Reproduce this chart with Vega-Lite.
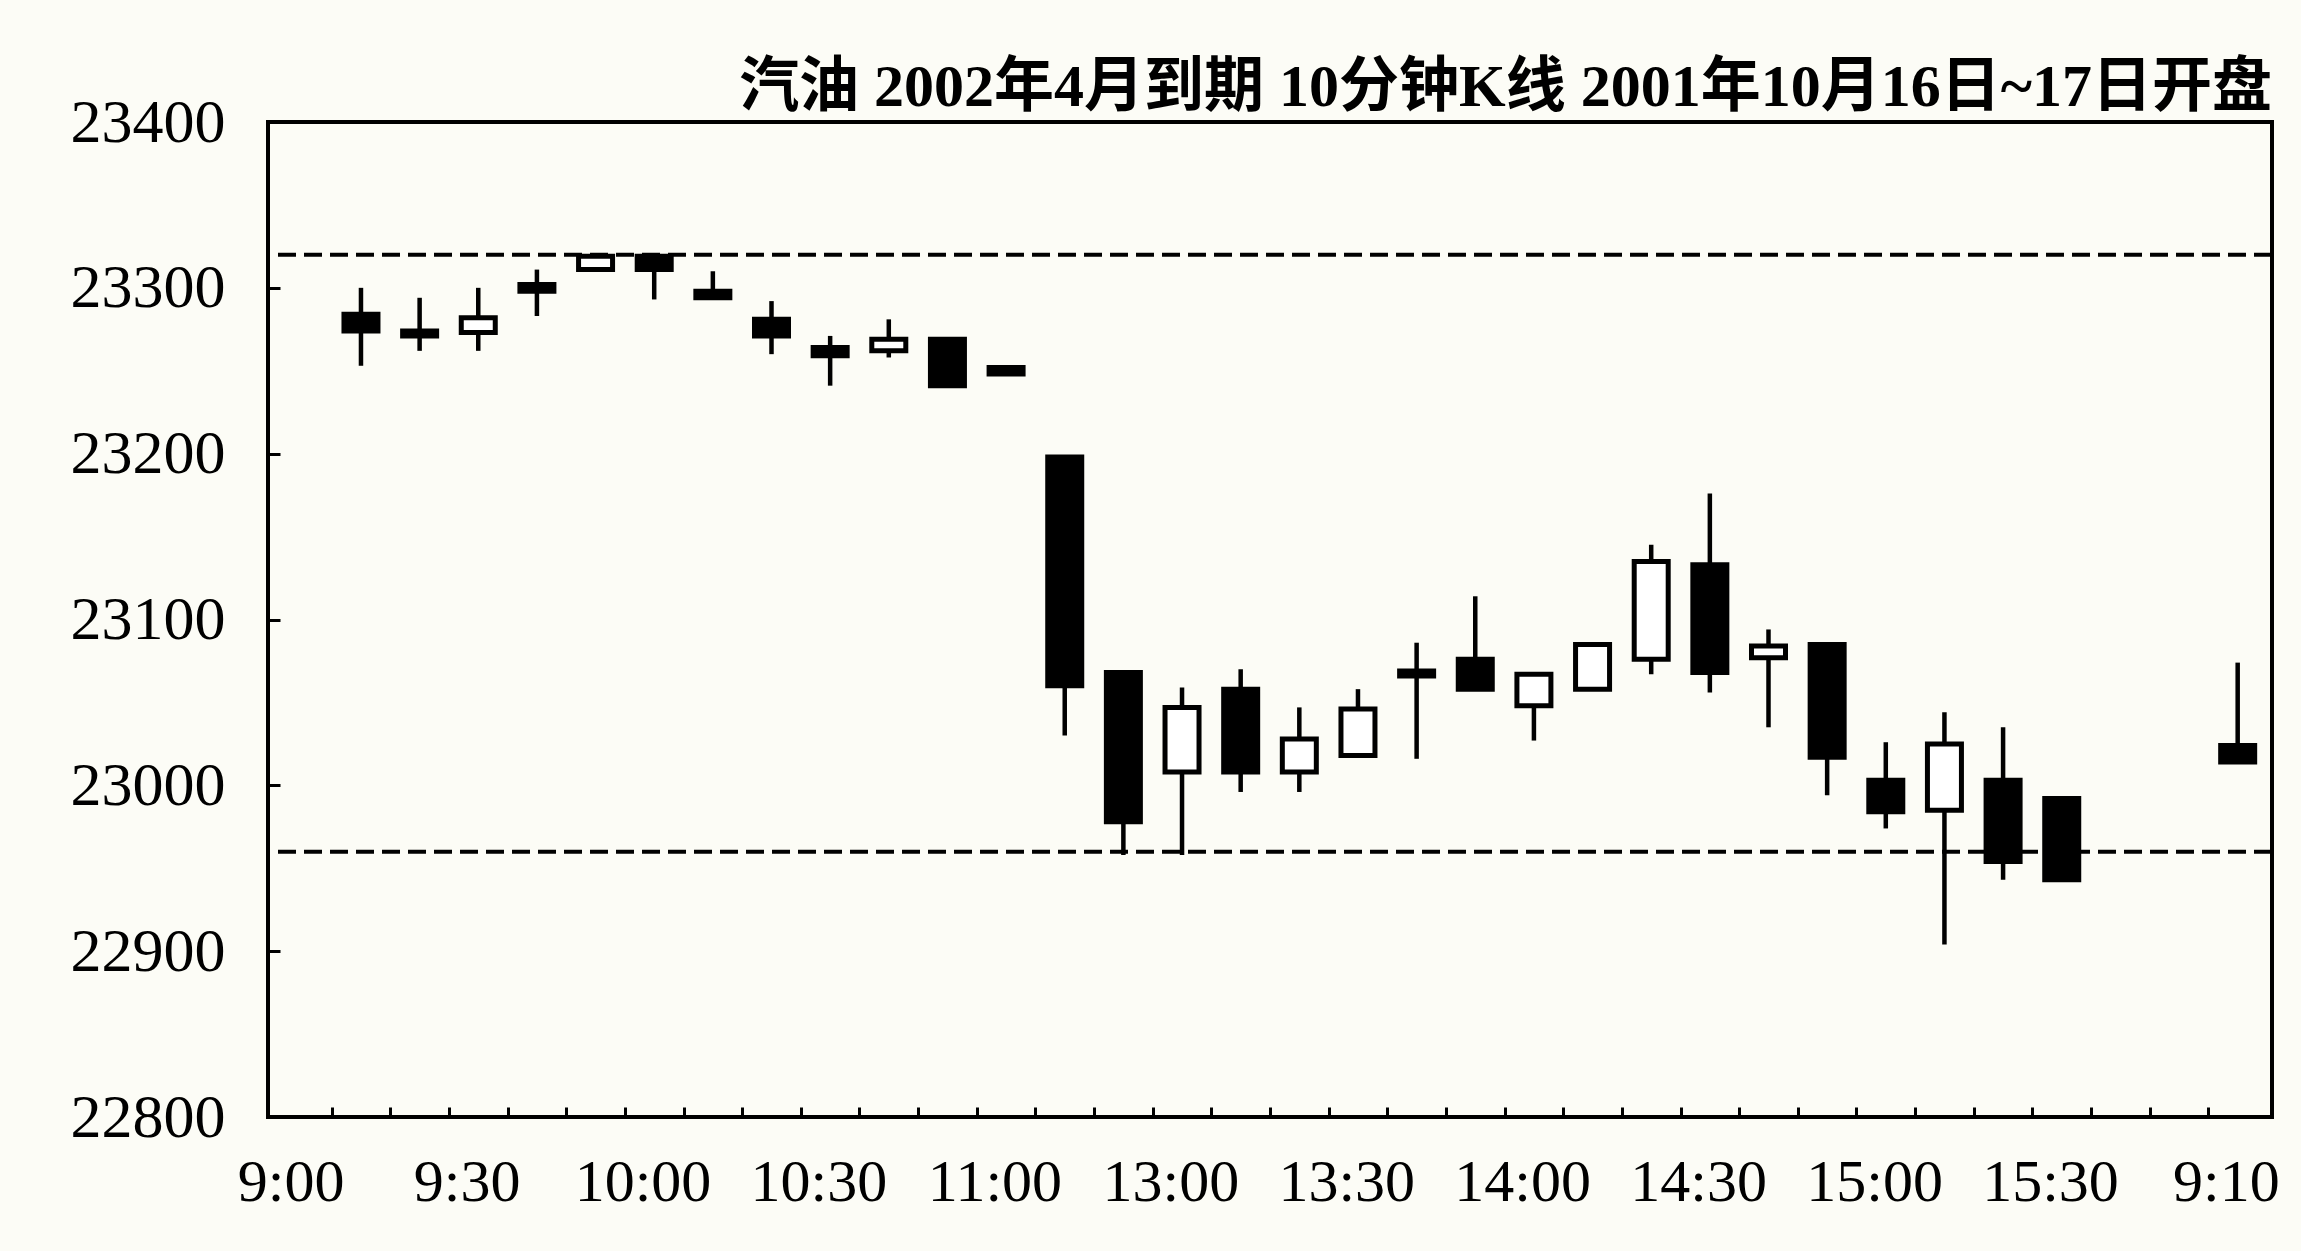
{
  "$schema": "https://vega.github.io/schema/vega-lite/v6.json",
  "autosize": {"type": "none"},
  "width": 2004,
  "height": 995,
  "padding": {"left": 268, "top": 122, "right": 29, "bottom": 134},
  "background": "#fcfcf6",
  "config": {
    "view": {"stroke": "#000000", "strokeWidth": 4, "fill": "#fcfcf6"},
    "axis": {"grid": false, "domain": false}
  },
  "title": {
    "text": "汽油 2002年4月到期 10分钟K线 2001年10月16日~17日开盘",
    "anchor": "end",
    "frame": "group",
    "orient": "top",
    "offset": -28,
    "font": "Liberation Serif, Noto Sans CJK SC",
    "fontSize": 60,
    "fontWeight": "bold",
    "color": "#000000"
  },
  "datasets": {
    "candles": [
      {"i": 0, "open": 23284, "close": 23274, "high": 23300, "low": 23253},
      {"i": 1, "open": 23274, "close": 23271, "high": 23294, "low": 23262},
      {"i": 2, "open": 23273, "close": 23282, "high": 23300, "low": 23262},
      {"i": 3, "open": 23302, "close": 23298, "high": 23311, "low": 23283},
      {"i": 4, "open": 23311, "close": 23319, "high": 23320, "low": 23310},
      {"i": 5, "open": 23319, "close": 23311, "high": 23320, "low": 23293},
      {"i": 6, "open": 23298, "close": 23294, "high": 23310, "low": 23293},
      {"i": 7, "open": 23281, "close": 23271, "high": 23292, "low": 23260},
      {"i": 8, "open": 23264, "close": 23259, "high": 23271, "low": 23241},
      {"i": 9, "open": 23262, "close": 23269, "high": 23281, "low": 23258},
      {"i": 10, "open": 23269, "close": 23241, "high": 23270, "low": 23240},
      {"i": 11, "open": 23252, "close": 23248, "high": 23253, "low": 23247},
      {"i": 12, "open": 23198, "close": 23060, "high": 23199, "low": 23030},
      {"i": 13, "open": 23068, "close": 22978, "high": 23069, "low": 22958},
      {"i": 14, "open": 23008, "close": 23047, "high": 23059, "low": 22958},
      {"i": 15, "open": 23058, "close": 23008, "high": 23070, "low": 22996},
      {"i": 16, "open": 23008, "close": 23028, "high": 23047, "low": 22996},
      {"i": 17, "open": 23018, "close": 23046, "high": 23058, "low": 23017},
      {"i": 18, "open": 23069, "close": 23066, "high": 23086, "low": 23016},
      {"i": 19, "open": 23076, "close": 23058, "high": 23114, "low": 23057},
      {"i": 20, "open": 23048, "close": 23067, "high": 23068, "low": 23027},
      {"i": 21, "open": 23058, "close": 23085, "high": 23086, "low": 23057},
      {"i": 22, "open": 23076, "close": 23135, "high": 23145, "low": 23067},
      {"i": 23, "open": 23133, "close": 23068, "high": 23176, "low": 23056},
      {"i": 24, "open": 23077, "close": 23084, "high": 23094, "low": 23035},
      {"i": 25, "open": 23085, "close": 23017, "high": 23086, "low": 22994},
      {"i": 26, "open": 23003, "close": 22984, "high": 23026, "low": 22974},
      {"i": 27, "open": 22985, "close": 23025, "high": 23044, "low": 22904},
      {"i": 28, "open": 23003, "close": 22954, "high": 23035, "low": 22943},
      {"i": 29, "open": 22992, "close": 22943, "high": 22993, "low": 22942},
      {"i": 32, "open": 23024, "close": 23014, "high": 23074, "low": 23013}
    ],
    "levels": [
      {"level": 23320},
      {"level": 22960}
    ]
  },
  "layer": [
    {
      "data": {"name": "levels"},
      "mark": {"type": "rule", "stroke": "#000000", "strokeWidth": 4, "strokeDash": [18, 8]},
      "encoding": {
        "y": {"field": "level", "type": "quantitative", "scale": {"domain": [22800, 23400], "nice": false, "zero": false}}
      }
    },
    {
      "data": {"name": "candles"},
      "mark": {"type": "rule", "stroke": "#000000", "strokeWidth": 4.5},
      "encoding": {
        "x": {
          "field": "i",
          "type": "quantitative",
          "scale": {"domain": [-1.5, 32.5], "nice": false, "zero": false},
          "axis": {
            "title": null,
            "values": [-1.2, -0.5, 0.5, 1.5, 1.8, 2.5, 3.5, 4.5, 4.8, 5.5, 6.5, 7.5, 7.8, 8.5, 9.5, 10.5, 10.8, 11.5, 12.5, 13.5, 13.8, 14.5, 15.5, 16.5, 16.8, 17.5, 18.5, 19.5, 19.8, 20.5, 21.5, 22.5, 22.8, 23.5, 24.5, 25.5, 25.8, 26.5, 27.5, 28.5, 28.8, 29.5, 30.5, 31.5, 31.8],
            "labelExpr": "abs(datum.value - floor(datum.value) - 0.8) < 0.01 ? ['9:00','9:30','10:00','10:30','11:00','13:00','13:30','14:00','14:30','15:00','15:30','9:10'][round((datum.value + 1.2) / 3)] : ''",
            "tickOpacity": {"condition": {"test": "abs(datum.value - floor(datum.value) - 0.5) < 0.01", "value": 1}, "value": 0},
            "tickSize": -10,
            "tickWidth": 3,
            "tickColor": "#000000",
            "labelFont": "Liberation Serif",
            "labelFontSize": 60,
            "labelColor": "#000000",
            "labelPadding": 75,
            "labelBaseline": "middle",
            "labelAlign": "center",
            "labelOverlap": false,
            "labelFlush": false,
            "labelBound": false
          }
        },
        "y": {
          "field": "low",
          "type": "quantitative",
          "scale": {"domain": [22800, 23400], "nice": false, "zero": false},
          "axis": {
            "title": null,
            "format": "d",
            "values": [22800, 22900, 23000, 23100, 23200, 23300, 23400],
            "tickSize": -12,
            "tickWidth": 3,
            "tickColor": "#000000",
            "labelFont": "Liberation Serif",
            "labelFontSize": 62,
            "labelColor": "#000000",
            "labelPadding": 55,
            "labelAlign": "right",
            "labelBaseline": "middle",
            "labelOverlap": false,
            "labelFlush": false,
            "labelBound": false
          }
        },
        "y2": {"field": "high"}
      }
    },
    {
      "data": {"name": "candles"},
      "transform": [
        {"calculate": "datum.close >= datum.open ? 'up' : 'down'", "as": "dir"}
      ],
      "mark": {"type": "bar", "width": 34, "stroke": "#000000", "strokeWidth": 5},
      "encoding": {
        "x": {"field": "i", "type": "quantitative"},
        "y": {"field": "open", "type": "quantitative"},
        "y2": {"field": "close"},
        "fill": {
          "field": "dir",
          "type": "nominal",
          "scale": {"domain": ["up", "down"], "range": ["#ffffff", "#000000"]},
          "legend": null
        }
      }
    }
  ]
}
